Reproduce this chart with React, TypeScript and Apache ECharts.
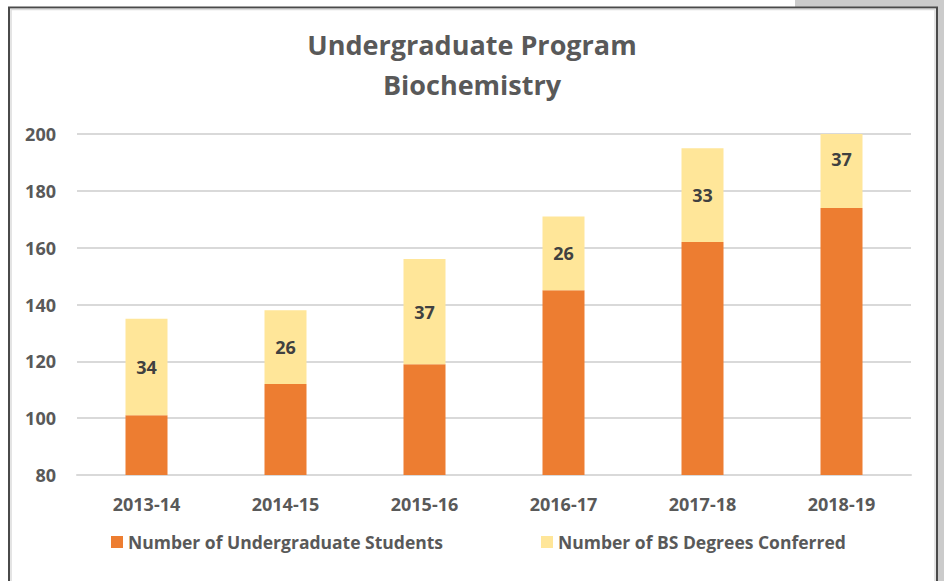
import React, { useEffect, useRef } from "react";
import * as echarts from "echarts";

const categories = ["2013-14", "2014-15", "2015-16", "2016-17", "2017-18", "2018-19"];
const undergradStudents = [101, 112, 119, 145, 162, 174];
const bsDegrees = [34, 26, 37, 26, 33, 37];
const yTicks = { min: 80, max: 200, interval: 20 };
const seriesNames = ["Number of Undergraduate Students", "Number of BS Degrees Conferred"];

const FONT = "Open Sans";
const GRAY = "#595959";

export default function App() {
  const ref = useRef<HTMLDivElement>(null);
  useEffect(() => {
    const chart = echarts.init(ref.current!, null, { renderer: "svg" });
    const yMax = yTicks.max;
    const legendText = { fontFamily: FONT, fontSize: 17.5, fontWeight: "bold", color: GRAY };
    chart.setOption({
      animation: false,
      backgroundColor: "#ffffff",
      graphic: [
        { type: "rect", shape: { x: 795, y: 0, width: 149, height: 8 }, style: { fill: "#cbcbcb" }, z: -10 },
        { type: "rect", shape: { x: 937, y: 0, width: 7, height: 581 }, style: { fill: "#cbcbcb" }, z: -10 },
        { type: "rect", shape: { x: 9, y: 7.5, width: 928, height: 585 }, style: { fill: "none", stroke: "#4a4a4a", lineWidth: 2 }, z: -5 },
        { type: "rect", shape: { x: 11, y: 9.5, width: 924, height: 585 }, style: { fill: "none", stroke: "#dcdcdc", lineWidth: 1.5 }, z: -5 },
      ],
      title: {
        text: "Undergraduate Program\nBiochemistry",
        left: "center",
        top: 19,
        textStyle: { fontFamily: FONT, fontSize: 27, fontWeight: "bold", color: GRAY, lineHeight: 40 },
      },
      legend: [
        {
          data: [seriesNames[0]],
          left: 106,
          top: 528,
          itemWidth: 12,
          itemHeight: 12,
          itemGap: 5,
          icon: "rect",
          textStyle: legendText,
        },
        {
          data: [seriesNames[1]],
          left: 536,
          top: 528,
          itemWidth: 12,
          itemHeight: 12,
          icon: "rect",
          textStyle: legendText,
        },
      ],
      grid: { left: 77, right: 33, top: 134, bottom: 106, containLabel: false },
      xAxis: {
        type: "category",
        data: categories,
        axisLine: { show: true, lineStyle: { color: "#d9d9d9", width: 2 } },
        axisTick: { show: false },
        axisLabel: { fontFamily: FONT, fontSize: 18, fontWeight: "bold", color: GRAY, margin: 20 },
      },
      yAxis: {
        type: "value",
        min: yTicks.min,
        max: yTicks.max,
        interval: yTicks.interval,
        axisLine: { show: false },
        axisTick: { show: false },
        splitLine: { lineStyle: { color: "#d9d9d9", width: 2 } },
        axisLabel: { fontFamily: FONT, fontSize: 18, fontWeight: "bold", color: GRAY, margin: 21 },
      },
      series: [
        {
          name: seriesNames[0],
          type: "bar",
          stack: "total",
          barWidth: 42,
          data: undergradStudents,
          itemStyle: { color: "#ED7D31" },
        },
        {
          name: seriesNames[1],
          type: "bar",
          stack: "total",
          barWidth: 42,
          data: bsDegrees.map((v, i) => {
            const over = undergradStudents[i] + v > yMax;
            return {
              value: v,
              label: over ? { offset: [0, -12] } : undefined,
            };
          }),
          itemStyle: { color: "#FFE699" },
          label: {
            show: true,
            position: "inside",
            fontFamily: FONT,
            fontSize: 18,
            fontWeight: "bold",
            color: "#404040",
          },
        },
      ],
    });
    return () => chart.dispose();
  }, []);
  return (
    <div
      ref={ref}
      style={{ position: "absolute", left: 0, top: 0, width: 944, height: 581 }}
    />
  );
}
